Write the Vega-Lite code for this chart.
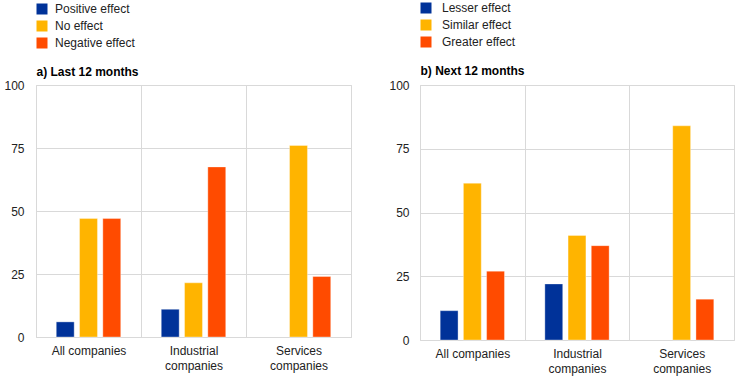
{
  "$schema": "https://vega.github.io/schema/vega-lite/v6.json",
  "padding": {"left": 3, "top": 1, "right": 5, "bottom": 3},
  "background": "white",
  "config": {
    "font": "Liberation Sans",
    "view": {"stroke": "#d9d9d9", "strokeWidth": 1},
    "axis": {
      "labelFont": "Liberation Sans",
      "labelFontSize": 12,
      "labelColor": "#222222",
      "gridColor": "#d9d9d9",
      "gridWidth": 1,
      "domain": false,
      "ticks": false
    },
    "legend": {
      "symbolType": "square",
      "symbolSize": 121,
      "symbolStrokeWidth": 0,
      "symbolOpacity": 1,
      "labelFont": "Liberation Sans",
      "labelFontSize": 12,
      "labelColor": "#222222",
      "rowPadding": 5,
      "padding": 0,
      "offset": 0
    }
  },
  "spacing": 36,
  "hconcat": [
    {
      "width": 315,
      "height": 252,
      "data": {
        "values": [
          {"sector": "All companies", "effect": "Positive effect", "value": 6},
          {"sector": "All companies", "effect": "No effect", "value": 47},
          {"sector": "All companies", "effect": "Negative effect", "value": 47},
          {"sector": "Industrial companies", "effect": "Positive effect", "value": 11},
          {"sector": "Industrial companies", "effect": "No effect", "value": 21.5},
          {"sector": "Industrial companies", "effect": "Negative effect", "value": 67.5},
          {"sector": "Services companies", "effect": "No effect", "value": 76},
          {"sector": "Services companies", "effect": "Negative effect", "value": 24}
        ]
      },
      "mark": {"type": "bar", "stroke": "white", "strokeOpacity": 0.35, "strokeWidth": 1},
      "encoding": {
        "x": {
          "field": "sector", "type": "nominal",
          "sort": ["All companies", "Industrial companies", "Services companies"],
          "scale": {"paddingInner": 0, "paddingOuter": 0},
          "axis": {
            "title": null, "labelAngle": 0, "grid": true, "tickBand": "extent",
            "labelPadding": 8, "labelLineHeight": 15,
            "labelExpr": "datum.label == 'All companies' ? datum.label : split(datum.label, ' ')"
          }
        },
        "xOffset": {
          "field": "effect", "type": "nominal",
          "sort": ["Positive effect", "No effect", "Negative effect"],
          "scale": {"domain": ["Positive effect", "No effect", "Negative effect"], "paddingInner": 0.23, "paddingOuter": 0.87}
        },
        "y": {
          "field": "value", "type": "quantitative",
          "scale": {"domain": [0, 100]},
          "axis": {
            "values": [0, 25, 50, 75, 100], "labelPadding": 12,
            "title": "a) Last 12 months", "titleAngle": 0, "titleX": 0, "titleY": -10,
            "titleAlign": "left", "titleBaseline": "alphabetic",
            "titleFontSize": 12, "titleFontWeight": "bold", "titleColor": "#000000", "titleFont": "Liberation Sans"
          }
        },
        "color": {
          "field": "effect", "type": "nominal",
          "scale": {"domain": ["Positive effect", "No effect", "Negative effect"], "range": ["#003299", "#FFB400", "#FF4B00"]},
          "legend": {"orient": "none", "legendX": 0, "legendY": -82, "direction": "vertical", "title": null, "labelOffset": 7}
        }
      }
    },
    {
      "width": 314,
      "height": 255,
      "data": {
        "values": [
          {"sector": "All companies", "effect": "Lesser effect", "value": 11.5},
          {"sector": "All companies", "effect": "Similar effect", "value": 61.5},
          {"sector": "All companies", "effect": "Greater effect", "value": 27},
          {"sector": "Industrial companies", "effect": "Lesser effect", "value": 22},
          {"sector": "Industrial companies", "effect": "Similar effect", "value": 41},
          {"sector": "Industrial companies", "effect": "Greater effect", "value": 37},
          {"sector": "Services companies", "effect": "Similar effect", "value": 84},
          {"sector": "Services companies", "effect": "Greater effect", "value": 16}
        ]
      },
      "mark": {"type": "bar", "stroke": "white", "strokeOpacity": 0.35, "strokeWidth": 1},
      "encoding": {
        "x": {
          "field": "sector", "type": "nominal",
          "sort": ["All companies", "Industrial companies", "Services companies"],
          "scale": {"paddingInner": 0, "paddingOuter": 0},
          "axis": {
            "title": null, "labelAngle": 0, "grid": true, "tickBand": "extent",
            "labelPadding": 8, "labelLineHeight": 15,
            "labelExpr": "datum.label == 'All companies' ? datum.label : split(datum.label, ' ')"
          }
        },
        "xOffset": {
          "field": "effect", "type": "nominal",
          "sort": ["Lesser effect", "Similar effect", "Greater effect"],
          "scale": {"domain": ["Lesser effect", "Similar effect", "Greater effect"], "paddingInner": 0.23, "paddingOuter": 0.87}
        },
        "y": {
          "field": "value", "type": "quantitative",
          "scale": {"domain": [0, 100]},
          "axis": {
            "values": [0, 25, 50, 75, 100], "labelPadding": 11,
            "title": "b) Next 12 months", "titleAngle": 0, "titleX": 0, "titleY": -11,
            "titleAlign": "left", "titleBaseline": "alphabetic",
            "titleFontSize": 12, "titleFontWeight": "bold", "titleColor": "#000000", "titleFont": "Liberation Sans"
          }
        },
        "color": {
          "field": "effect", "type": "nominal",
          "scale": {"domain": ["Lesser effect", "Similar effect", "Greater effect"], "range": ["#003299", "#FFB400", "#FF4B00"]},
          "legend": {"orient": "none", "legendX": 0, "legendY": -83, "direction": "vertical", "title": null, "labelOffset": 10}
        }
      }
    }
  ],
  "resolve": {"scale": {"color": "independent", "x": "independent", "xOffset": "independent", "y": "independent"}, "legend": {"color": "independent"}}
}
